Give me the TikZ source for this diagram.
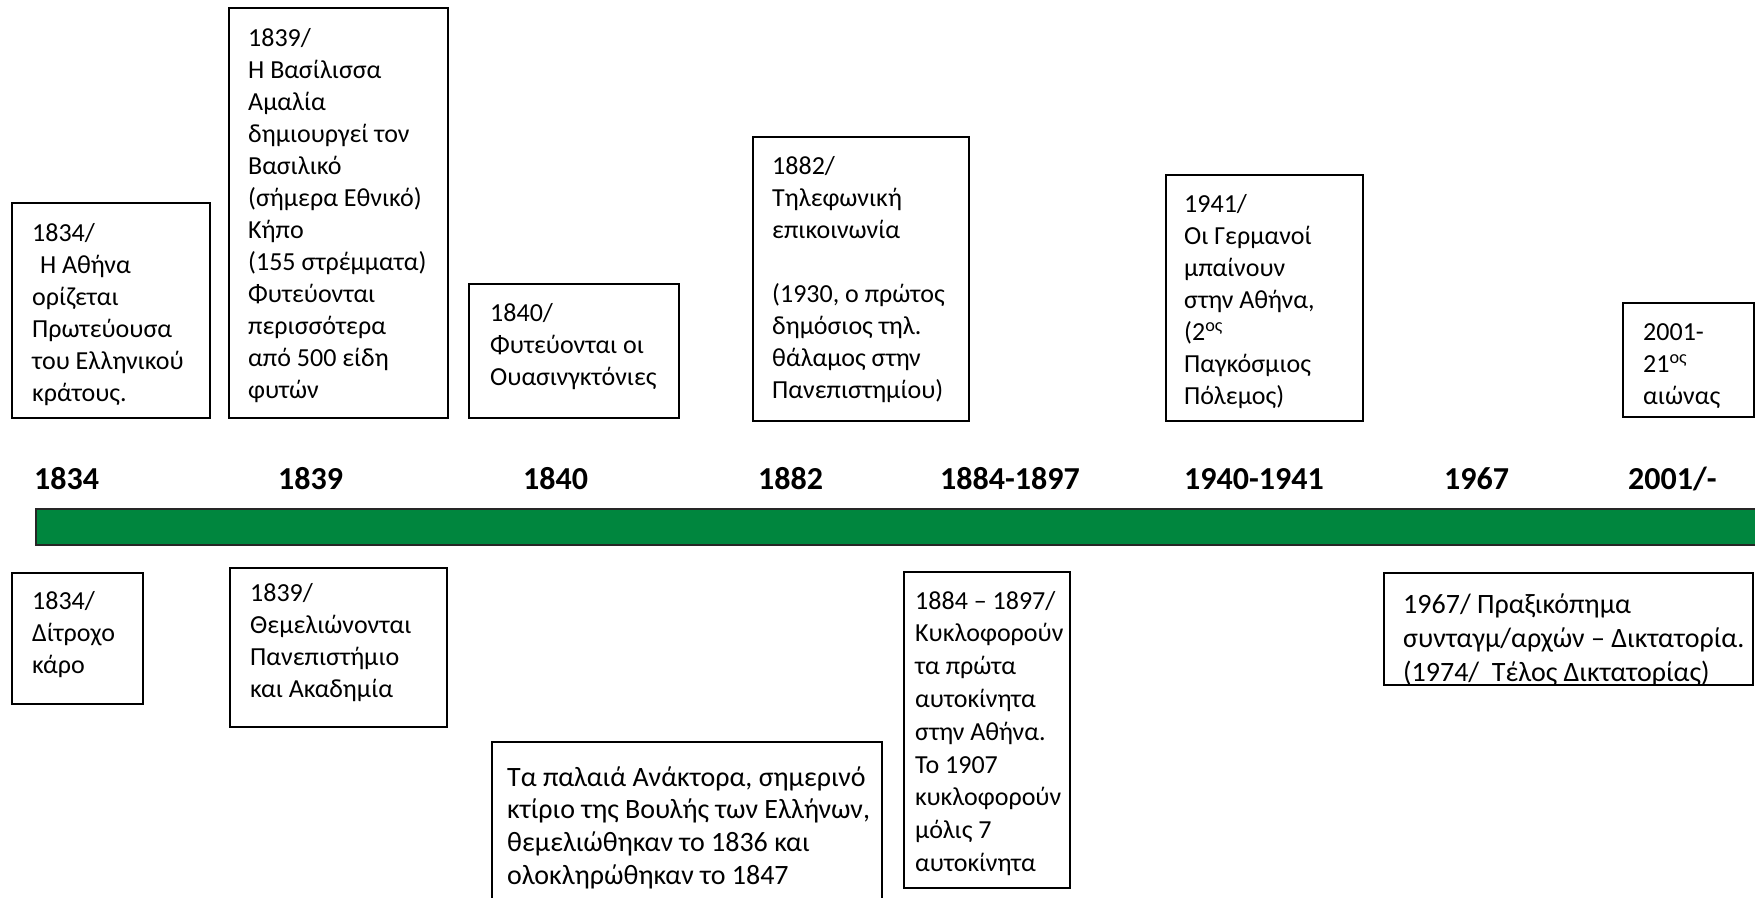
\documentclass[tikz,border=0pt]{standalone}
\usepackage{fontspec}
\setmainfont{Carlito}
\definecolor{bargreen}{RGB}{0,134,62}
\begin{document}
\begin{tikzpicture}[x=1pt,y=-1pt,
  box/.style={draw=black, line width=2.5pt},
  txt/.style={anchor=north west, inner sep=0pt, align=left, font=\fontsize{26}{32}\selectfont},
  bigtxt/.style={txt, font=\fontsize{28}{32.8}\selectfont},
  yr/.style={anchor=base west, inner sep=0pt, font=\fontsize{32}{38}\selectfont\bfseries}]
\useasboundingbox (0,0) rectangle (1755,897);
% timeline bar
\draw[fill=bargreen, draw=black!85, line width=2pt] (36,509) rectangle (1762,545);
% year labels
\node[yr] (y1834) at (34,489) {1834};
\node[yr] (y1839) at (278,489) {1839};
\node[yr] (y1840) at (523,489) {1840};
\node[yr] (y1882) at (758,489) {1882};
\node[yr] (y1884) at (940,489) {1884-1897};
\node[yr] (y1940) at (1184,489) {1940-1941};
\node[yr] (y1967) at (1444,489) {1967};
\node[yr] (y2001) at (1628,489) {2001/-};
% top boxes
\draw[box] (12,203) rectangle (210,418);
\node[txt] (tA) at (32,218.6) {\strut 1834/\\ \hspace{0.3em}Η Αθήνα\\ ορίζεται\\ Πρωτεύουσα\\ του Ελληνικού\\ κράτους.};
\draw[box] (229,8) rectangle (448,418);
\node[txt] (tB) at (248,23.6) {\strut 1839/\\ Η Βασίλισσα\\ Αμαλία\\ δημιουργεί τον\\ Βασιλικό\\ (σήμερα Εθνικό)\\ Κήπο\\ (155 στρέμματα)\\ Φυτεύονται\\ περισσότερα\\ από 500 είδη\\ φυτών};
\draw[box] (469,284) rectangle (679,418);
\node[txt] (tC) at (490,298.6) {\strut 1840/\\ Φυτεύονται οι\\ Ουασινγκτόνιες};
\draw[box] (753,137) rectangle (969,421);
\node[txt] (tD) at (772,151.6) {\strut 1882/\\ Τηλεφωνική\\ επικοινωνία\\ \strut\\ (1930, ο πρώτος\\ δημόσιος τηλ.\\ θάλαμος στην\\ Πανεπιστημίου)};
\draw[box] (1166,175) rectangle (1363,421);
\node[txt] (tE) at (1184,189.6) {\strut 1941/\\ Οι Γερμανοί\\ μπαίνουν\\ στην Αθήνα,\\ (2\textsuperscript{ος}\\ Παγκόσμιος\\ Πόλεμος)};
\draw[box] (1623,303) rectangle (1754,417);
\node[txt] (tF) at (1643,317.6) {\strut 2001-\\ 21\textsuperscript{ος}\\ αιώνας};
% bottom boxes
\draw[box] (12,573) rectangle (143,704);
\node[txt] (tG) at (32,586.6) {\strut 1834/\\ Δίτροχο\\ κάρο};
\draw[box] (230,568) rectangle (447,727);
\node[txt] (tH) at (250,578.6) {\strut 1839/\\ Θεμελιώνονται\\ Πανεπιστήμιο\\ και Ακαδημία};
\draw[box] (492,742) rectangle (882,910);
\node[bigtxt] (tI) at (507,763.0) {\strut Τα παλαιά Ανάκτορα, σημερινό\\ κτίριο της Βουλής των Ελλήνων,\\ θεμελιώθηκαν το 1836 και\\ ολοκληρώθηκαν το 1847};
\draw[box] (904,572) rectangle (1070,888);
\node[txt, font=\fontsize{26}{32.8}\selectfont] (tJ) at (915,586.0) {\strut 1884 – 1897/\\ Κυκλοφορούν\\ τα πρώτα\\ αυτοκίνητα\\ στην Αθήνα.\\ Το 1907\\ κυκλοφορούν\\ μόλις 7\\ αυτοκίνητα};
\begin{scope}
\clip (1384,573) rectangle (1753,685);
\node[txt, font=\fontsize{28}{34}\selectfont] (tK) at (1403,589.2) {\strut 1967/ Πραξικόπημα\\ συνταγμ/αρχών – Δικτατορία.\\ (1974/\ \ Τέλος Δικτατορίας)};
\end{scope}
\draw[box] (1384,573) rectangle (1753,685);
\end{tikzpicture}
\end{document}
